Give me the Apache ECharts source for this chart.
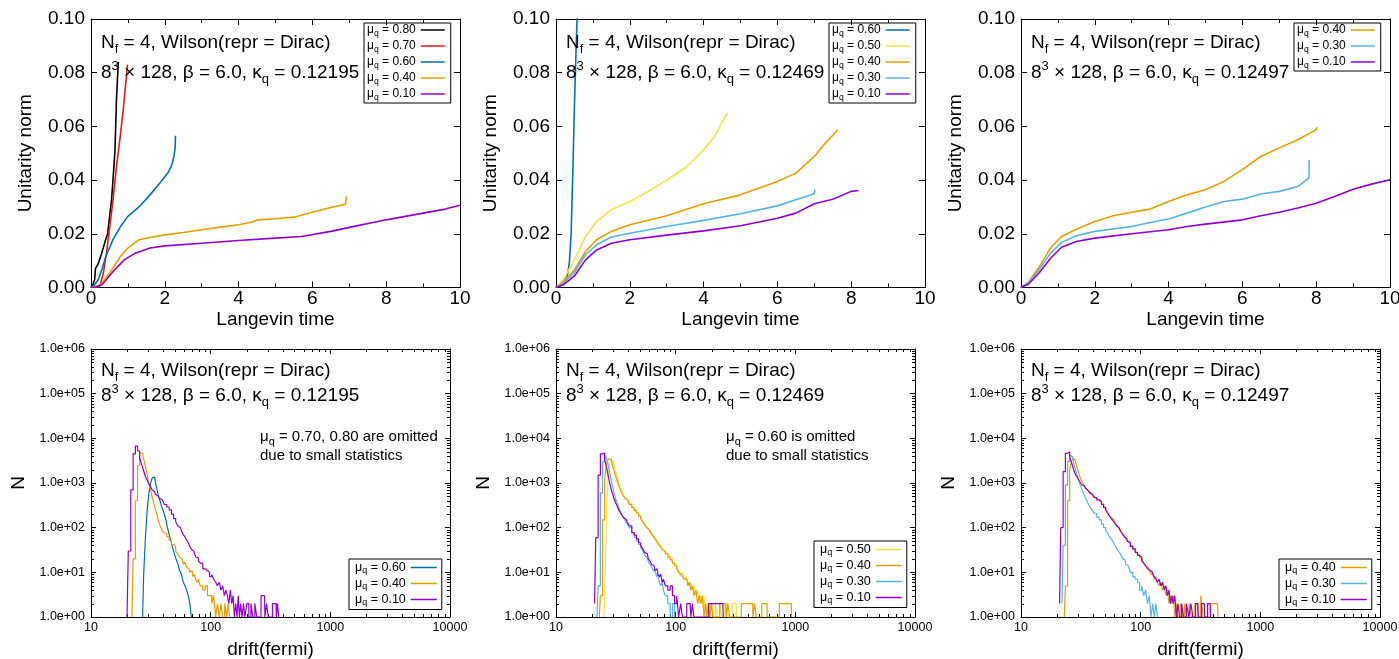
<!DOCTYPE html>
<html><head><meta charset="utf-8">
<script src="https://cdn.jsdelivr.net/npm/echarts@6/dist/echarts.min.js"></script>
<style>html,body{margin:0;padding:0;background:#fff}#c{width:1399px;height:659px}</style>
</head><body><div id="c"></div>
<script>
// ================= DATA =================
const kappas = ['0.12195', '0.12469', '0.12497'];

// --- Top row: Unitarity norm vs Langevin time [t, norm] ---
// kappa = 0.12195
const u1_mu080 = [[0,0],[0.05,0.001],[0.1,0.003],[0.12,0.007],[0.2,0.009],[0.29,0.0128],[0.38,0.017],[0.45,0.020],[0.5,0.026],[0.56,0.033],[0.6,0.041],[0.65,0.051],[0.69,0.070],[0.74,0.084]];
const u1_mu070 = [[0,0],[0.24,0.0005],[0.33,0.005],[0.42,0.0128],[0.51,0.0227],[0.6,0.033],[0.69,0.045],[0.79,0.056],[0.88,0.067],[0.99,0.083]];
const u1_mu060 = [[0,0],[0.1,0.001],[0.2,0.003],[0.3,0.007],[0.4,0.0115],[0.6,0.018],[0.8,0.0227],[1.0,0.0265],[1.3,0.030],[1.6,0.0345],[1.9,0.0395],[2.1,0.043],[2.2,0.046],[2.25,0.049],[2.28,0.052],[2.29,0.0565]];
const u1_mu040 = [[0,0],[0.15,0.0005],[0.3,0.0016],[0.5,0.0053],[0.8,0.0116],[1.0,0.0147],[1.3,0.0178],[1.6,0.0186],[2.0,0.0196],[2.5,0.0205],[3,0.0215],[3.5,0.0225],[4,0.0234],[4.4,0.0245],[4.5,0.0252],[5,0.0256],[5.5,0.0262],[6,0.028],[6.5,0.0298],[6.9,0.031],[6.92,0.034]];
const u1_mu010 = [[0,0],[0.15,0.0003],[0.3,0.001],[0.6,0.006],[0.9,0.0103],[1.2,0.0128],[1.6,0.0147],[2,0.0155],[3,0.0165],[4,0.0175],[5,0.0184],[5.7,0.019],[6.5,0.0209],[7,0.0224],[8,0.0252],[9,0.0277],[9.6,0.0292],[9.7,0.0296],[10,0.0306]];
// kappa = 0.12469
const u2_mu060 = [[0,0],[0.2,0.002],[0.3,0.004],[0.36,0.009],[0.41,0.02],[0.46,0.045],[0.5,0.068],[0.53,0.082],[0.57,0.1],[0.6,0.11]];
const u2_mu050 = [[0,0],[0.2,0.003],[0.5,0.0103],[0.8,0.019],[1.1,0.0246],[1.5,0.029],[2.0,0.032],[2.5,0.0358],[3,0.040],[3.5,0.0445],[4,0.0513],[4.3,0.0563],[4.6,0.064],[4.65,0.065]];
const u2_mu040 = [[0,0],[0.2,0.002],[0.5,0.0066],[0.8,0.0134],[1.1,0.0178],[1.5,0.0209],[2,0.0234],[3,0.0267],[4,0.0312],[5,0.0345],[6,0.0395],[6.5,0.0426],[7,0.0488],[7.3,0.0538],[7.6,0.0581],[7.62,0.0588]];
const u2_mu030 = [[0,0],[0.2,0.0015],[0.5,0.0056],[0.8,0.0122],[1.1,0.0159],[1.5,0.0188],[2,0.0202],[3,0.0227],[4,0.025],[5,0.0275],[6,0.0304],[6.5,0.0327],[7,0.0349],[7.02,0.0365]];
const u2_mu010 = [[0,0],[0.2,0.001],[0.5,0.0043],[0.8,0.0103],[1.1,0.014],[1.5,0.0165],[2,0.0178],[3,0.0195],[4,0.0211],[5,0.023],[6,0.0258],[6.5,0.0277],[7,0.0312],[7.5,0.0329],[8,0.0358],[8.2,0.0361]];
// kappa = 0.12497
const u3_mu040 = [[0,0],[0.2,0.002],[0.5,0.0078],[0.8,0.0147],[1.1,0.019],[1.5,0.0217],[2,0.0246],[2.5,0.0267],[3,0.028],[3.5,0.0292],[4,0.032],[4.5,0.0345],[5,0.0364],[5.5,0.0395],[6,0.0439],[6.5,0.0488],[7,0.052],[7.5,0.055],[8,0.0588],[8.02,0.0597]];
const u3_mu030 = [[0,0],[0.2,0.0017],[0.5,0.0068],[0.8,0.0128],[1.1,0.0168],[1.5,0.0193],[2,0.0209],[3,0.0227],[3.5,0.0242],[4,0.0255],[4.5,0.0277],[5,0.030],[5.5,0.032],[6,0.0329],[6.5,0.0348],[7,0.0358],[7.5,0.0376],[7.8,0.0407],[7.81,0.0475]];
const u3_mu010 = [[0,0],[0.2,0.0012],[0.5,0.0056],[0.8,0.0109],[1.1,0.015],[1.5,0.0171],[2,0.0184],[3,0.020],[4,0.0215],[4.5,0.0227],[5,0.0236],[6,0.0252],[6.5,0.0267],[7,0.028],[7.5,0.0296],[8,0.0314],[8.5,0.0339],[9,0.0366],[9.5,0.0385],[10,0.0401]];

// --- Bottom row: histogram N vs drift(fermi) [drift, N] ---
// kappa = 0.12195
const h1_mu060 = [[27,1],[28,8],[29,60],[30,250],[31,600],[32,1000],[33,1300],[34,1350],[35,1050],[36,750],[37,520],[38,420],[39,330],[40,270],[41,220],[42,180],[43,140],[44,100],[45,80],[46,62],[47,52],[48,40],[49,33],[50,27],[52,21],[54,16],[56,11],[58,9],[60,6],[62,5],[64,4],[66,3],[68,2],[70,1]];
const h1_mu040 = [[22,1],[23,20],[24,400],[25,2500],[26,4500],[27,4700],[28,3500],[29,2400],[30,1500],[31,950],[32,700],[33,480],[34,350],[35,260],[36,200],[37,150],[38,115],[39,100],[40,85],[42,75],[44,62],[46,52],[48,42],[50,38],[52,30],[54,26],[56,22],[58,20],[60,15],[62,17],[64,13],[66,12],[68,10],[70,11],[72,8],[74,9],[76,7],[78,6],[80,7],[84,5],[88,4],[92,5],[96,3],[100,3],[104,2],[108,3],[112,1],[116,2],[120,1],[124,2],[128,1],[134,2],[138,1],[142,2],[146,1]];
const h1_mu010 = [[20,1],[21,30],[22,700],[23,4500],[24,6700],[25,5200],[26,3600],[27,2600],[28,1900],[29,1400],[30,1150],[31,950],[32,820],[33,700],[34,640],[35,560],[36,520],[37,480],[38,450],[39,420],[40,380],[42,330],[44,290],[46,250],[48,200],[50,160],[52,135],[54,110],[56,100],[58,85],[60,70],[62,62],[64,52],[66,46],[68,38],[70,33],[72,30],[74,28],[76,22],[78,21],[80,18],[84,16],[88,12],[92,11],[96,10],[100,8],[104,9],[108,7],[112,6],[116,5],[120,6],[124,4],[128,5],[132,3],[136,4],[140,3],[144,2],[148,4],[152,2],[156,3],[160,1],[164,2],[168,1],[172,3],[176,1],[180,2],[186,1],[190,2],[196,1],[205,2],[212,1],[222,2],[228,1],[240,2],[246,1],[282,3],[286,1],[300,2],[306,1],[352,2],[356,1],[368,2],[372,1]];
// kappa = 0.12469
const h2_mu050 = [[25,1],[26,2],[27,300],[28,2000],[29,3200],[30,3100],[31,2500],[32,1800],[33,1300],[34,1000],[35,800],[36,660],[37,560],[38,490],[39,440],[40,400],[42,340],[44,290],[46,250],[48,220],[50,190],[52,165],[54,140],[56,120],[58,108],[60,95],[62,85],[64,76],[66,66],[68,60],[70,54],[72,48],[74,42],[76,38],[78,35],[80,32],[84,27],[88,23],[92,20],[96,16],[100,15],[104,13],[108,11],[112,9],[116,10],[120,7],[124,8],[128,6],[132,5],[136,6],[140,4],[145,5],[150,3],[155,4],[160,2],[165,3],[170,2],[175,3],[180,1],[185,2],[190,1],[200,2],[210,1],[220,2],[226,1],[240,2],[246,1],[270,2],[276,1],[320,2],[326,1]];
const h2_mu040 = [[23,1],[24,3],[25,150],[26,1200],[27,2800],[28,3500],[29,3400],[30,2600],[31,1900],[32,1400],[33,1100],[34,850],[35,700],[36,600],[37,520],[38,460],[39,420],[40,380],[42,330],[44,280],[46,240],[48,210],[50,180],[52,160],[54,135],[56,115],[58,100],[60,92],[62,80],[64,72],[66,64],[68,56],[70,50],[72,45],[74,40],[76,36],[78,32],[80,30],[84,26],[88,22],[92,19],[96,16],[100,14],[104,12],[108,10],[112,9],[116,8],[120,7],[124,7],[128,5],[132,6],[136,4],[140,5],[145,3],[150,4],[155,2],[160,3],[165,2],[170,3],[175,1],[180,2],[185,1],[190,2],[196,1],[202,2],[208,1],[262,2],[266,1],[280,2],[284,1],[440,2],[444,1],[470,2],[474,1],[580,2],[584,1],[925,2],[930,1]];
const h2_mu030 = [[22,1],[23,5],[24,600],[25,3000],[26,4300],[27,3500],[28,2300],[29,1400],[30,900],[31,600],[32,440],[33,350],[34,280],[35,230],[36,200],[37,175],[38,150],[39,135],[40,120],[42,100],[44,75],[46,62],[48,50],[50,42],[52,36],[54,30],[56,25],[58,22],[60,18],[62,15],[64,13],[66,11],[68,10],[70,8],[72,9],[74,6],[76,5],[78,6],[80,4],[84,3],[88,2],[92,1],[96,2],[100,1]];
const h2_mu010 = [[21,2],[22,60],[23,1500],[24,4500],[25,4700],[26,3300],[27,2200],[28,1300],[29,850],[30,600],[31,450],[32,360],[33,300],[34,250],[35,215],[36,190],[37,170],[38,155],[39,145],[40,130],[42,110],[44,78],[46,68],[48,56],[50,46],[52,40],[54,34],[56,28],[58,26],[60,20],[62,18],[64,15],[66,14],[68,11],[70,12],[72,9],[74,8],[76,9],[78,6],[80,7],[84,5],[88,4],[92,5],[96,3],[100,2],[104,3],[108,1],[112,2],[116,1],[132,2],[136,1],[140,2],[144,1],[248,2],[252,1]];
// kappa = 0.12497
const h3_mu040 = [[23,1],[24,5],[25,400],[26,2000],[27,3200],[28,3500],[29,3000],[30,2200],[31,1600],[32,1250],[33,1050],[34,900],[35,800],[36,720],[37,650],[38,600],[39,560],[40,520],[42,480],[44,430],[46,390],[48,340],[50,290],[52,260],[54,220],[56,190],[58,165],[60,150],[62,130],[64,115],[66,100],[68,92],[70,80],[72,72],[74,65],[76,58],[78,52],[80,47],[84,40],[88,34],[92,28],[96,25],[100,21],[104,19],[108,16],[112,14],[116,13],[120,11],[124,9],[128,10],[132,7],[136,8],[140,6],[145,5],[150,6],[155,4],[160,5],[165,3],[170,4],[175,2],[180,3],[185,2],[190,3],[196,1],[202,2],[208,1],[220,2],[226,1],[240,2],[246,1],[262,2],[268,1],[300,2],[306,1],[330,3],[336,1],[440,2],[446,1]];
const h3_mu030 = [[22,2],[23,40],[24,900],[25,3000],[26,4200],[27,3900],[28,2800],[29,2000],[30,1500],[31,1100],[32,850],[33,680],[34,560],[35,470],[36,400],[37,340],[38,300],[39,270],[40,240],[42,210],[44,170],[46,150],[48,120],[50,100],[52,88],[54,75],[56,62],[58,55],[60,48],[62,40],[64,34],[66,30],[68,27],[70,23],[72,20],[74,19],[76,15],[78,14],[80,13],[84,10],[88,8],[92,7],[96,6],[100,4],[104,5],[108,3],[112,4],[116,2],[120,3],[124,1],[128,2],[132,1],[136,2],[140,1]];
const h3_mu010 = [[21,2],[22,100],[23,1800],[24,4600],[25,5000],[26,3900],[27,2800],[28,2000],[29,1550],[30,1350],[31,1150],[32,1000],[33,900],[34,850],[35,760],[36,700],[37,640],[38,600],[39,560],[40,520],[42,470],[44,420],[46,380],[48,330],[50,280],[52,250],[54,210],[56,180],[58,160],[60,140],[62,125],[64,110],[66,100],[68,88],[70,78],[72,70],[74,62],[76,56],[78,50],[80,46],[84,38],[88,33],[92,28],[96,24],[100,22],[104,18],[108,16],[112,14],[116,12],[120,11],[124,10],[128,9],[132,8],[136,7],[140,6],[145,7],[150,5],[155,6],[160,4],[165,5],[170,3],[175,4],[180,2],[185,3],[190,2],[196,3],[202,1],[208,2],[215,1],[225,2],[232,1],[250,2],[256,1],[270,2],[276,1],[300,2],[306,1],[340,2],[346,1],[380,2],[386,1]];

// log-axis minor tick positions
const logMinorX = [20,30,40,50,60,70,80,90,200,300,400,500,600,700,800,900,2000,3000,4000,5000,6000,7000,8000,9000];
const logMinorY = [2,3,4,5,6,7,8,9,20,30,40,50,60,70,80,90,200,300,400,500,600,700,800,900,2000,3000,4000,5000,6000,7000,8000,9000,20000,30000,40000,50000,60000,70000,80000,90000,200000,300000,400000,500000,600000,700000,800000,900000];

const omitNotes = ['0.70, 0.80 are omitted', '0.60 is omitted', null];

const topSeries = [
  [['0.80',u1_mu080],['0.70',u1_mu070],['0.60',u1_mu060],['0.40',u1_mu040],['0.10',u1_mu010]],
  [['0.60',u2_mu060],['0.50',u2_mu050],['0.40',u2_mu040],['0.30',u2_mu030],['0.10',u2_mu010]],
  [['0.40',u3_mu040],['0.30',u3_mu030],['0.10',u3_mu010]]
];
const botSeries = [
  [['0.60',h1_mu060],['0.40',h1_mu040],['0.10',h1_mu010]],
  [['0.50',h2_mu050],['0.40',h2_mu040],['0.30',h2_mu030],['0.10',h2_mu010]],
  [['0.40',h3_mu040],['0.30',h3_mu030],['0.10',h3_mu010]]
];

// ================= STYLE / LAYOUT =================
const FONT = "'Liberation Sans', Arial, Helvetica, sans-serif";
const BLACK = '#000';
const COL = {'0.80':'#000000','0.70':'#e51e10','0.60':'#0072b2','0.50':'#f0e442','0.40':'#e69f00','0.30':'#56b4e9','0.10':'#9400d3'};
const colLeft = [91, 556, 1021];
const topLegendPos = [[364,23],[829,23],[1294,23]];
const botLegendPos = [[349,559],[814,541],[1279,559]];
const noteLeft = [260, 726];

const grid = [], xAxis = [], yAxis = [], series = [], legend = [], title = [];
const ls = {color: BLACK, width: 1};

function axis(gi, type, pos, o) {
  return Object.assign({
    gridIndex: gi, type: type, position: pos,
    axisLine: {show: true, onZero: false, lineStyle: ls},
    axisTick: {show: true, inside: true, length: 6, lineStyle: ls},
    splitLine: {show: false}, minorSplitLine: {show: false},
    axisLabel: {show: false},
    nameMoveOverlap: false
  }, o);
}
function rs(size, lh, va) {
  const o = {fontFamily: FONT, fontSize: size, fontWeight: 'normal', color: BLACK, lineHeight: lh};
  if (va) o.verticalAlign = va;
  return o;
}
const annRich = {
  m: rs(19, 26), sb: rs(13, 15, 'bottom'), sp: rs(13, 15, 'top'),
  n: rs(15, 20), nb: rs(11, 12, 'bottom')
};
const annStyle = {fontFamily: FONT, fontWeight: 'normal', color: BLACK, rich: annRich};
function addTitles(left, top1, top2, kappa) {
  title.push({left: left, top: top1, padding: 0, text: '{m|N}{sb|f}{m| = 4, Wilson(repr = Dirac)}', textStyle: annStyle});
  title.push({left: left, top: top2, padding: 0, text: '{m|8}{sp|3}{m| × 128, β = 6.0, κ}{sb|q}{m| = ' + kappa + '}', textStyle: annStyle});
}
function legendFor(names, pos, fs, lh, gap, pad, iw) {
  return {
    left: pos[0], top: pos[1], orient: 'vertical', align: 'right',
    data: names, icon: 'rect', itemWidth: iw, itemHeight: 1.5, itemGap: gap, padding: pad,
    borderColor: BLACK, borderWidth: 1, selectedMode: false,
    formatter: function (name) { return '{m|μ}{s|q}{m| = ' + name.split('_')[1] + '}'; },
    textStyle: {fontFamily: FONT, fontSize: fs, color: BLACK, rich: {
      m: rs(fs, lh), s: rs(fs * 0.72, lh * 0.6, 'bottom')
    }}
  };
}

for (let c = 0; c < 3; c++) {
  // ---------- top panel ----------
  let g = grid.length;
  grid.push({left: colLeft[c], top: 19, width: 369, height: 268.5, containLabel: false, outerBoundsMode: 'none'});
  let xi = xAxis.length, yi = yAxis.length;
  xAxis.push(axis(g, 'value', 'bottom', {min: 0, max: 10, interval: 2,
    minorTick: {show: true, splitNumber: 2, length: 4, lineStyle: ls},
    name: 'Langevin time', nameLocation: 'middle', nameGap: 23,
    nameTextStyle: {fontFamily: FONT, fontSize: 19, color: BLACK},
    axisLabel: {show: true, margin: 2, fontFamily: FONT, fontSize: 19, color: BLACK}}));
  xAxis.push(axis(g, 'value', 'top', {min: 0, max: 10, interval: 2,
    minorTick: {show: true, splitNumber: 2, length: 4, lineStyle: ls}}));
  yAxis.push(axis(g, 'value', 'left', {min: 0, max: 0.1, interval: 0.02,
    name: 'Unitarity norm', nameLocation: 'middle', nameGap: 56,
    nameTextStyle: {fontFamily: FONT, fontSize: 19, color: BLACK},
    axisLabel: {show: true, margin: 6, fontFamily: FONT, fontSize: 19, color: BLACK,
      formatter: function (v) { return v.toFixed(2); }}}));
  yAxis.push(axis(g, 'value', 'right', {min: 0, max: 0.1, interval: 0.02}));
  const tn = [];
  topSeries[c].forEach(function (s) {
    const nm = 'T' + c + '_' + s[0];
    tn.push(nm);
    series.push({type: 'line', name: nm, xAxisIndex: xi, yAxisIndex: yi, data: s[1],
      symbol: 'none', showSymbol: false, color: COL[s[0]], animation: false, clip: true,
      lineStyle: {color: COL[s[0]], width: 1.6}, itemStyle: {color: COL[s[0]]}});
  });
  legend.push(legendFor(tn, topLegendPos[c], 12, 16, 2, [1, 6, 1, 3], 24));
  addTitles(colLeft[c] + 10, 30, 60, kappas[c]);

  // ---------- bottom panel ----------
  g = grid.length;
  grid.push({left: colLeft[c], top: 349, width: 359, height: 268, containLabel: false, outerBoundsMode: 'none'});
  xi = xAxis.length; yi = yAxis.length;
  xAxis.push(axis(g, 'log', 'bottom', {min: 10, max: 10000, logBase: 10, axisTick: {show: true, inside: true, length: 5, lineStyle: ls},
    name: 'drift(fermi)', nameLocation: 'middle', nameGap: 23,
    nameTextStyle: {fontFamily: FONT, fontSize: 19, color: BLACK},
    axisLabel: {show: true, margin: 4, fontFamily: FONT, fontSize: 12.5, color: BLACK,
      formatter: function (v) { return String(Math.round(v)); }}}));
  xAxis.push(axis(g, 'log', 'top', {min: 10, max: 10000, logBase: 10, axisTick: {show: true, inside: true, length: 5, lineStyle: ls}}));
  yAxis.push(axis(g, 'log', 'left', {min: 1, max: 1000000, logBase: 10, axisTick: {show: true, inside: true, length: 5, lineStyle: ls},
    name: 'N', nameLocation: 'middle', nameGap: 63,
    nameTextStyle: {fontFamily: FONT, fontSize: 19, color: BLACK},
    axisLabel: {show: true, margin: 6, fontFamily: FONT, fontSize: 12.5, color: BLACK,
      formatter: function (v) { const e = Math.round(Math.log10(v)); return '1.0e+' + String(e).padStart(2, '0'); }}}));
  yAxis.push(axis(g, 'log', 'right', {min: 1, max: 1000000, logBase: 10, axisTick: {show: true, inside: true, length: 5, lineStyle: ls}}));
  const minorData = logMinorX.map(function (x) { return [x, 1, 0]; }).concat(logMinorY.map(function (y) { return [10, y, 1]; }));
  series.push({type: 'custom', xAxisIndex: xi, yAxisIndex: yi, data: minorData, silent: true, clip: false, animation: false, z: 1,
    renderItem: function (params, api) {
      const cs = params.coordSys, p = api.coord([api.value(0), api.value(1)]), L = 3;
      const st = {stroke: BLACK, lineWidth: 1};
      if (api.value(2) === 0) {
        const x = Math.round(p[0]) + 0.5;
        return {type: 'group', children: [
          {type: 'line', shape: {x1: x, y1: cs.y + cs.height, x2: x, y2: cs.y + cs.height - L}, style: st},
          {type: 'line', shape: {x1: x, y1: cs.y, x2: x, y2: cs.y + L}, style: st}]};
      }
      const y = Math.round(p[1]) + 0.5;
      return {type: 'group', children: [
        {type: 'line', shape: {x1: cs.x, y1: y, x2: cs.x + L, y2: y}, style: st},
        {type: 'line', shape: {x1: cs.x + cs.width, y1: y, x2: cs.x + cs.width - L, y2: y}, style: st}]};
    }});
  const bn = [];
  botSeries[c].forEach(function (s) {
    const nm = 'B' + c + '_' + s[0];
    bn.push(nm);
    series.push({type: 'line', name: nm, xAxisIndex: xi, yAxisIndex: yi, data: s[1], step: 'middle',
      symbol: 'none', showSymbol: false, color: COL[s[0]], animation: false, clip: true, z: 3,
      lineStyle: {color: COL[s[0]], width: 1.2}, itemStyle: {color: COL[s[0]]}});
  });
  legend.push(legendFor(bn, botLegendPos[c], 12.5, 16, 1.5, [2, 5, 2, 6], 26));
  addTitles(colLeft[c] + 10, 358, 383, kappas[c]);
  if (omitNotes[c]) {
    title.push({left: noteLeft[c], top: 427, padding: 0, text: '{n|μ}{nb|q}{n| = ' + omitNotes[c] + '}', textStyle: annStyle});
    title.push({left: noteLeft[c], top: 446, padding: 0, text: '{n|due to small statistics}', textStyle: annStyle});
  }
}

const chart = echarts.init(document.getElementById('c'), null, {renderer: 'canvas'});
chart.setOption({
  animation: false, backgroundColor: '#fff',
  grid: grid, xAxis: xAxis, yAxis: yAxis, series: series, legend: legend, title: title
});
</script></body></html>
